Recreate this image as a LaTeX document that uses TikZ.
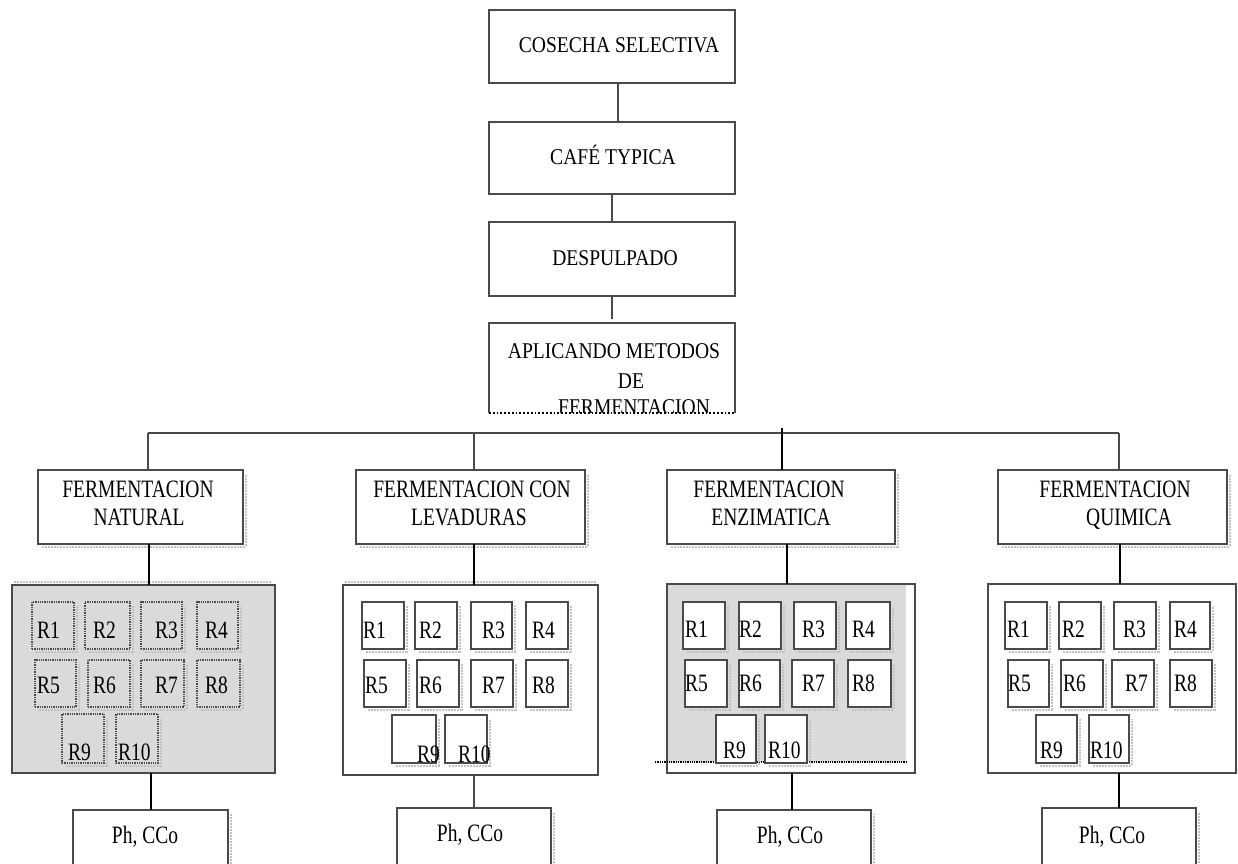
\documentclass[tikz,border=0pt]{standalone}
\usepackage{fontspec}
\setmainfont{Liberation Serif}
\newfontfamily\topfont[FakeStretch=0.87]{Liberation Serif}
\newfontfamily\lowfont[FakeStretch=0.78]{Liberation Serif}
\usetikzlibrary{calc}

\definecolor{edge}{HTML}{4A4A4A}
\definecolor{groundgray}{HTML}{DADADA}
\definecolor{shadowc}{HTML}{C2C2C2}

% rectangle node given by its corners: name, style, x1, y1, x2, y2
\newcommand{\boxat}[6]{%
  \pgfmathsetmacro{\bxcx}{(#3+#5)/2}%
  \pgfmathsetmacro{\bxcy}{(#4+#6)/2}%
  \pgfmathsetmacro{\bxw}{#5-#3}%
  \pgfmathsetmacro{\bxh}{#6-#4}%
  \node[#2, minimum width=\bxw pt, minimum height=\bxh pt] (#1) at (\bxcx,\bxcy) {};}
% soft drop shadow on the right and lower sides
\newcommand{\dropshadow}[4]{%
  \draw[shadowline] (#1+4,#4+2.5) -- (#3+2.5,#4+2.5) -- (#3+2.5,#2+4);}
% box with its shadow
\newcommand{\rbox}[6]{\dropshadow{#3}{#4}{#5}{#6}\boxat{#1}{#2}{#3}{#4}{#5}{#6}}

\begin{document}
\begin{tikzpicture}[x=1pt,y=-1pt,
  box/.style={draw=edge, line width=1.3pt, fill=white, inner sep=0pt, outer sep=0pt},
  openbox/.style={draw=none, inner sep=0pt, outer sep=0pt},
  graybox/.style={draw=edge, line width=1.3pt, fill=groundgray, inner sep=0pt, outer sep=0pt},
  dotbox/.style={draw=edge, line width=1.3pt, densely dotted, inner sep=0pt, outer sep=0pt},
  link/.style={draw=edge, line width=1.1pt},
  boldlink/.style={draw=black, line width=2.8pt},
  shadowline/.style={draw=shadowc, line width=2pt, densely dotted},
  toptext/.style={font=\topfont\fontsize{22.5}{27}\selectfont, inner sep=0pt, anchor=base},
  lowtext/.style={font=\lowfont\fontsize{25}{30}\selectfont, inner sep=0pt, anchor=base},
  rlabel/.style={lowtext, anchor=base west}]

\useasboundingbox (0,0) rectangle (1238,863);
\clip (0,0) rectangle (1238,863);

% ---- main sequence ----
\boxat{cos}{box}{489}{10}{735}{83}
\boxat{caf}{box}{489}{122}{735}{194}
\boxat{des}{box}{489}{222}{735}{296}
\boxat{apl}{openbox}{489}{323}{735}{413}
\draw[edge, line width=1.3pt] (apl.south west) -- (apl.north west) -- (apl.north east) -- (apl.south east);

\node[toptext] (tcos) at (619,52) {COSECHA SELECTIVA};
\node[toptext] (tcaf) at (613,164) {CAFÉ TYPICA};
\node[toptext] (tdes) at (615,265) {DESPULPADO};
\node[toptext] (tapl1) at (614,358) {APLICANDO METODOS};
\node[toptext] (tapl2) at (631,388) {DE};
\begin{scope}
  \clip (489,323) rectangle (735,412);
  \node[toptext] (tapl3) at (634,414) {FERMENTACION};
\end{scope}
\draw[black, line width=1.8pt, dotted] (apl.south west) -- (apl.south east);

\draw[link] ([xshift=6pt]cos.south) -- ([xshift=6pt]caf.north);
\draw[link] (caf.south) -- (des.north);
\draw[link] (des.south) -- ([yshift=4pt]apl.north);

% ---- fermentation methods ----
\dropshadow{38}{470}{243}{544}
\dropshadow{356}{470}{585}{544}
\dropshadow{667}{470}{895}{544}
\dropshadow{998}{470}{1227}{544}
\boxat{nat}{box}{38}{470}{243}{544}
\boxat{lev}{box}{356}{470}{585}{544}
\boxat{enz}{box}{667}{470}{895}{544}
\boxat{qui}{box}{998}{470}{1227}{544}

\node[lowtext] (tnat1) at (138,497) {FERMENTACION};
\node[lowtext] (tnat2) at (139,525) {NATURAL};
\node[lowtext] (tlev1) at (472,497) {FERMENTACION CON};
\node[lowtext] (tlev2) at (469,525) {LEVADURAS};
\node[lowtext] (tenz1) at (769,497) {FERMENTACION};
\node[lowtext] (tenz2) at (771,525) {ENZIMATICA};
\node[lowtext] (tqui1) at (1115,497) {FERMENTACION};
\node[lowtext] (tqui2) at (1129,525) {QUIMICA};

\coordinate (busL) at (148,433);
\coordinate (busB) at (474,433);
\coordinate (busC) at (782,428);
\coordinate (busR) at (1119,433);
\draw[link] (busL) -- (busR);
\draw[link] (busL) -- (busL |- nat.north);
\draw[link] (busB) -- (busB |- lev.north);
\draw[boldlink] (busC) -- (busC |- enz.north);
\draw[link] (busR) -- (busR |- qui.north);

% ---- treatment groups ----
\draw[shadowline] (14,582) -- (272,582);
\boxat{cnat}{graybox}{12}{585}{275}{773}
\draw[shadowline] (345,582) -- (596,582);
\boxat{clev}{box}{343}{585}{598}{775}
\fill[groundgray] (667,583) rectangle (906,762);
\boxat{cenz}{openbox}{667}{584}{915}{773}
\draw[edge, line width=1.3pt] (cenz.north west) rectangle (cenz.south east);
\draw[black, line width=1.3pt, densely dotted] (655,762) -- (906,762);
\boxat{cqui}{box}{988}{584}{1236}{773}

% natural: dotted boxes on the gray ground
\foreach \nm/\a/\b/\c/\d in {n1/32/602/74/649, n2/85/602/130/649, n3/141/602/182/649, n4/197/602/238/649,
  n5/35/660/76/707, n6/88/660/130/707, n7/141/660/184/707, n8/197/660/240/707,
  n9/62/714/104/763, n10/116/714/158/763}
  {\rbox{\nm}{dotbox}{\a}{\b}{\c}{\d}}
\foreach \nm/\t/\a/\b in {ln1/R1/37/638, ln2/R2/93/638, ln3/R3/155/638, ln4/R4/205/638,
  ln5/R5/37/693, ln6/R6/93/693, ln7/R7/155/693, ln8/R8/205/693, ln9/R9/68/760, ln10/R10/118/760}
  {\node[rlabel] (\nm) at (\a,\b) {\t};}

% yeasts
\foreach \nm/\a/\b/\c/\d in {l1/362/602/404/649, l2/415/602/457/649, l3/471/602/512/649, l4/526/602/568/649,
  l5/364/660/406/707, l6/417/660/459/707, l7/471/660/513/707, l8/526/660/568/707,
  l9/392/715/436/763, l10/445/715/487/763}
  {\rbox{\nm}{box}{\a}{\b}{\c}{\d}}
\foreach \nm/\t/\a/\b in {ll1/R1/363/638, ll2/R2/419/638, ll3/R3/482/638, ll4/R4/532/638,
  ll5/R5/365/693, ll6/R6/419/693, ll7/R7/482/693, ll8/R8/532/693, ll9/R9/417/762, ll10/R10/458/762}
  {\node[rlabel] (\nm) at (\a,\b) {\t};}

% enzymes
\foreach \nm/\a/\b/\c/\d in {e1/683/602/725/649, e2/739/602/781/649, e3/794/602/836/649, e4/846/602/890/649,
  e5/685/660/727/707, e6/739/660/780/707, e7/792/660/834/707, e8/848/660/891/707,
  e9/716/715/756/763, e10/765/715/807/763}
  {\rbox{\nm}{box}{\a}{\b}{\c}{\d}}
\foreach \nm/\t/\a/\b in {le1/R1/685/637, le2/R2/739/637, le3/R3/802/637, le4/R4/852/637,
  le5/R5/685/691, le6/R6/739/691, le7/R7/802/691, le8/R8/852/691, le9/R9/723/758, le10/R10/768/758}
  {\node[rlabel] (\nm) at (\a,\b) {\t};}

% chemical
\foreach \nm/\a/\b/\c/\d in {q1/1005/602/1047/649, q2/1059/602/1101/649, q3/1114/602/1156/649, q4/1170/602/1210/649,
  q5/1008/660/1049/707, q6/1061/660/1103/707, q7/1112/660/1154/707, q8/1170/660/1212/707,
  q9/1036/715/1077/763, q10/1089/715/1129/763}
  {\rbox{\nm}{box}{\a}{\b}{\c}{\d}}
\foreach \nm/\t/\a/\b in {lq1/R1/1007/637, lq2/R2/1062/637, lq3/R3/1123/637, lq4/R4/1174/637,
  lq5/R5/1008/691, lq6/R6/1063/691, lq7/R7/1125/691, lq8/R8/1174/691, lq9/R9/1040/758, lq10/R10/1090/758}
  {\node[rlabel] (\nm) at (\a,\b) {\t};}

\draw[boldlink] ([xshift=8.5pt]nat.south) -- ([xshift=8.5pt]nat.south |- cnat.north);
\draw[boldlink] ([xshift=3.5pt]lev.south) -- ([xshift=3.5pt]lev.south |- clev.north);
\draw[boldlink] ([xshift=6pt]enz.south) -- ([xshift=6pt]enz.south |- cenz.north);
\draw[boldlink] ([xshift=7.5pt]qui.south) -- ([xshift=7.5pt]qui.south |- cqui.north);

% ---- measurements ----
\dropshadow{73}{810}{228}{885}
\dropshadow{397}{808}{551}{885}
\dropshadow{717}{810}{871}{885}
\dropshadow{1042}{808}{1196}{885}
\boxat{pnat}{box}{73}{810}{228}{885}
\boxat{plev}{box}{397}{808}{551}{885}
\boxat{penz}{box}{717}{810}{871}{885}
\boxat{pqui}{box}{1042}{808}{1196}{885}
\node[lowtext] (tpnat) at (145,843) {Ph, CCo};
\node[lowtext] (tplev) at (470,841) {Ph, CCo};
\node[lowtext] (tpenz) at (790,843) {Ph, CCo};
\node[lowtext] (tpqui) at (1112,843) {Ph, CCo};

\coordinate (mn) at (151,773);
\coordinate (ml) at (474,775);
\coordinate (me) at (792,773);
\coordinate (mq) at (1119,773);
\draw[boldlink] (mn) -- (mn |- pnat.north);
\draw[link] (ml) -- (ml |- plev.north);
\draw[boldlink] (me) -- (me |- penz.north);
\draw[boldlink] (mq) -- (mq |- pqui.north);

\end{tikzpicture}
\end{document}
